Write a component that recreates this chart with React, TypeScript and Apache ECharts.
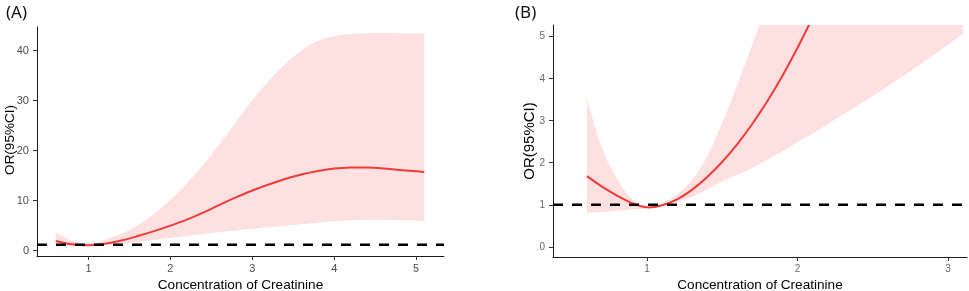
import React, { useEffect, useRef } from 'react';
import * as echarts from 'echarts';

// Panel A: Concentration of Creatinine vs OR (95% CI)
const xA = [0.6, 0.8, 1.0, 1.2, 1.4, 1.6, 1.8, 2.0, 2.2, 2.4, 2.6, 2.8, 3.0, 3.2, 3.4, 3.6, 3.8, 4.0, 4.2, 4.4, 4.6, 4.8, 5.0, 5.1];
const orA = [1.75, 1.1, 0.9, 1.2, 1.85, 2.75, 3.75, 4.85, 6.05, 7.45, 9.0, 10.5, 11.9, 13.1, 14.2, 15.1, 15.8, 16.3, 16.5, 16.5, 16.3, 16.0, 15.75, 15.6];
const upperA = [3.5, 1.8, 1.3, 2.0, 3.2, 4.9, 7.2, 10.0, 13.3, 17.0, 21.2, 25.6, 30.0, 33.9, 37.3, 40.0, 41.9, 42.9, 43.3, 43.45, 43.5, 43.45, 43.4, 43.4];
const lowerA = [0.75, 0.8, 0.75, 0.9, 1.2, 1.55, 1.95, 2.35, 2.75, 3.15, 3.5, 3.85, 4.2, 4.5, 4.8, 5.1, 5.4, 5.7, 5.9, 6.0, 6.0, 5.9, 5.85, 5.8];

// Panel B
const xB = [0.6, 0.7, 0.8, 0.9, 1.0, 1.1, 1.2, 1.3, 1.4, 1.5, 1.6, 1.7, 1.8, 1.9, 2.0, 2.1, 2.2, 2.4, 2.6, 2.8, 3.0, 3.1];
const orB = [1.68, 1.43, 1.22, 1.04, 0.94, 0.99, 1.13, 1.36, 1.66, 2.02, 2.44, 2.92, 3.46, 4.06, 4.72, 5.44, 6.22, 7.95, 9.9, 12.1, 14.5, 15.8];
const upperB = [3.52, 2.35, 1.62, 1.14, 0.98, 1.04, 1.25, 1.6, 2.15, 2.95, 3.85, 4.8, 5.8, 6.9, 8.0, 9.2, 10.5, 13.2, 16.0, 19.0, 22.0, 23.5];
const lowerB = [0.81, 0.83, 0.86, 0.89, 0.92, 0.97, 1.06, 1.19, 1.37, 1.55, 1.71, 1.88, 2.07, 2.27, 2.48, 2.69, 2.91, 3.35, 3.81, 4.29, 4.79, 5.05];

const ticksAx = [1, 2, 3, 4, 5];
const ticksAy = [0, 10, 20, 30, 40];
const ticksBx = [1, 2, 3];
const ticksBy = [0, 1, 2, 3, 4, 5];
const refOR = 1;

const xTitle = 'Concentration of Creatinine';
const yTitle = 'OR(95%CI)';
const panelLabels = ['(A)', '(B)'];

const FONT = 'Liberation Sans';
const RED = '#f23a3a';
const BAND = '#fde1e1';

// Catmull-Rom style smooth path through pixel points (drawing only)
function smoothSeg(pts: number[][], start: boolean): string {
  let d = start ? `M${pts[0][0]},${pts[0][1]}` : `L${pts[0][0]},${pts[0][1]}`;
  const n = pts.length;
  for (let i = 0; i < n - 1; i++) {
    const p0 = pts[Math.max(i - 1, 0)];
    const p1 = pts[i];
    const p2 = pts[i + 1];
    const p3 = pts[Math.min(i + 2, n - 1)];
    const c1x = p1[0] + (p2[0] - p0[0]) / 6;
    const c1y = p1[1] + (p2[1] - p0[1]) / 6;
    const c2x = p2[0] - (p3[0] - p1[0]) / 6;
    const c2y = p2[1] - (p3[1] - p1[1]) / 6;
    d += ` C${c1x},${c1y} ${c2x},${c2y} ${p2[0]},${p2[1]}`;
  }
  return d;
}

export default function App() {
  const ref = useRef<HTMLDivElement>(null);
  useEffect(() => {
    const chart = echarts.init(ref.current!, null, { renderer: 'svg' });

    const axisLine = { show: true, onZero: false, lineStyle: { color: '#1a1a1a', width: 1 } };
    const axisTick = (vals: number[]) => ({ show: true, length: 4, customValues: vals, lineStyle: { color: '#333', width: 1 } });
    const axisLabel = (vals: number[], size: number, color: string, margin: number) => ({
      customValues: vals, fontSize: size, color, fontFamily: FONT, margin,
    });

    const bandSeries = (idx: number, xs: number[], lo: number[], up: number[]) => ({
      type: 'custom', xAxisIndex: idx, yAxisIndex: idx, clip: true, silent: true, z: 1,
      data: [[xs[0], lo[0]]],
      renderItem: (_params: any, api: any) => {
        const top = xs.map((x, i) => api.coord([x, up[i]]));
        const bot = xs.map((x, i) => api.coord([x, lo[i]])).reverse();
        const d = smoothSeg(top, true) + ' ' + smoothSeg(bot, false) + ' Z';
        return { type: 'path', shape: { pathData: d }, style: { fill: BAND, stroke: 'none' } };
      },
    });
    const lineSeries = (idx: number, xs: number[], ys: number[]) => ({
      type: 'custom', xAxisIndex: idx, yAxisIndex: idx, clip: true, silent: true, z: 2,
      data: [[xs[0], ys[0]]],
      renderItem: (_params: any, api: any) => {
        const pts = xs.map((x, i) => api.coord([x, ys[i]]));
        return {
          type: 'path', shape: { pathData: smoothSeg(pts, true) },
          style: { fill: 'none', stroke: RED, lineWidth: 2, lineJoin: 'round' },
        };
      },
    });
    const refSeries = (idx: number, x0: number, x1: number) => ({
      type: 'custom', xAxisIndex: idx, yAxisIndex: idx, clip: true, silent: true, z: 3,
      data: [[x0, refOR]],
      renderItem: (_params: any, api: any) => {
        const a = api.coord([x0, refOR]);
        const b = api.coord([x1, refOR]);
        return {
          type: 'line', shape: { x1: a[0], y1: a[1], x2: b[0], y2: b[1] },
          style: { stroke: '#000', lineWidth: 2.5, lineDash: [10, 9] },
        };
      },
    });

    const xA0 = 0.371, xA1 = 5.34, xB0 = 0.375, xB1 = 3.126;

    chart.setOption({
      animation: false,
      grid: [
        { left: 37, top: 27, width: 407, height: 229, containLabel: false, outerBoundsMode: 'none' },
        { left: 553, top: 25, width: 414, height: 232, containLabel: false, outerBoundsMode: 'none' },
      ],
      xAxis: [
        {
          type: 'value', gridIndex: 0, min: xA0, max: xA1,
          axisLine, axisTick: axisTick(ticksAx), axisLabel: axisLabel(ticksAx, 11, '#4d4d4d', 6),
          splitLine: { show: false },
          name: xTitle, nameLocation: 'middle', nameGap: 18,
          nameTextStyle: { fontFamily: FONT, fontSize: 13.6, color: '#000' },
        },
        {
          type: 'value', gridIndex: 1, min: xB0, max: xB1,
          axisLine, axisTick: axisTick(ticksBx), axisLabel: axisLabel(ticksBx, 10, '#666', 6),
          splitLine: { show: false },
          name: xTitle, nameLocation: 'middle', nameGap: 18,
          nameTextStyle: { fontFamily: FONT, fontSize: 13.6, color: '#000' },
        },
      ],
      yAxis: [
        {
          type: 'value', gridIndex: 0, min: -1.25, max: 44.7,
          axisLine, axisTick: axisTick(ticksAy), axisLabel: axisLabel(ticksAy, 11, '#4d4d4d', 8),
          splitLine: { show: false },
        },
        {
          type: 'value', gridIndex: 1, min: -0.237, max: 5.26,
          axisLine, axisTick: axisTick(ticksBy), axisLabel: axisLabel(ticksBy, 10, '#666', 8),
          splitLine: { show: false },
          name: yTitle, nameLocation: 'middle', nameGap: 15, nameRotate: 90,
          nameTextStyle: { fontFamily: FONT, fontSize: 15, color: '#000' },
        },
      ],
      graphic: [
        { type: 'text', left: 6, top: 3, style: { text: panelLabels[0], fontFamily: 'Noto Sans', fontSize: 17, fill: '#111' } },
        { type: 'text', left: 515, top: 3, style: { text: panelLabels[1], fontFamily: 'Noto Sans', fontSize: 17, fill: '#111' } },
        {
          type: 'text', x: 9.5, y: 140, rotation: Math.PI / 2,
          style: { text: yTitle, fontFamily: FONT, fontSize: 13.5, fill: '#000', align: 'center', verticalAlign: 'middle' },
        },
      ],
      series: [
        bandSeries(0, xA, lowerA, upperA),
        lineSeries(0, xA, orA),
        refSeries(0, xA0, xA1),
        bandSeries(1, xB, lowerB, upperB),
        lineSeries(1, xB, orB),
        refSeries(1, xB0, xB1),
      ],
    });
    return () => chart.dispose();
  }, []);
  return <div ref={ref} style={{ position: 'fixed', left: 0, top: 0, width: 969, height: 291 }} />;
}
